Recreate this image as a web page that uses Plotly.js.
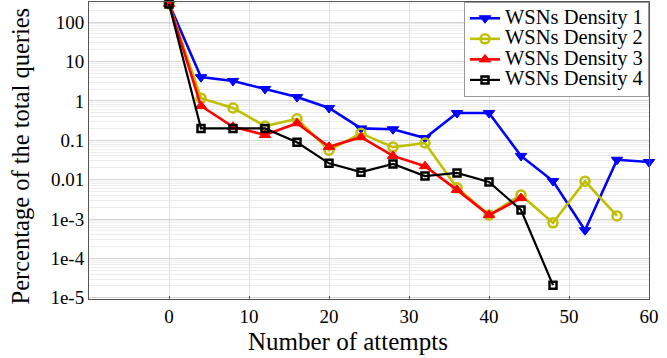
<!DOCTYPE html>
<html>
<head>
<meta charset="utf-8">
<script src="https://cdn.plot.ly/plotly-3.0.1.min.js"></script>
<style>
  html, body { margin: 0; padding: 0; background: #fff; }
  #chart { width: 667px; height: 358px; }
</style>
</head>
<body>
<div id="chart"></div>
<script>
// Attempt counts (x) shared by all densities
const attempts = [0, 4, 8, 12, 16, 20, 24, 28, 32, 36, 40, 44, 48, 52, 56, 60];

// Percentage of the total queries per attempt, one array per WSN density
const density1 = [290, 4.0, 3.2, 2.0, 1.25, 0.66, 0.20, 0.19, 0.114, 0.49, 0.49, 0.040, 0.0092, 0.00052, 0.032, 0.028];
const density2 = [290, 1.17, 0.66, 0.23, 0.35, 0.056, 0.15, 0.067, 0.085, 0.0062, 0.00126, 0.0041, 0.0008, 0.0091, 0.0012];
const density3 = [290, 0.74, 0.22, 0.136, 0.27, 0.068, 0.12, 0.040, 0.022, 0.0055, 0.00126, 0.0034];
const density4 = [290, 0.20, 0.20, 0.20, 0.089, 0.026, 0.0155, 0.025, 0.0123, 0.0148, 0.0087, 0.0017, 0.000021];

const seriesNames = ["WSNs Density 1", "WSNs Density 2", "WSNs Density 3", "WSNs Density 4"];

// Tick labels
const yTickVals = [1e-5, 1e-4, 1e-3, 0.01, 0.1, 1, 10, 100];
const yTickText = ["1e-5", "1e-4", "1e-3", "0.01", "0.1", "1", "10", "100"];
const xTickVals = [0, 10, 20, 30, 40, 50, 60];

const xTitle = "Number of attempts";
const yTitle = "Percentage of the total queries";

const serif = "'Liberation Serif', 'Times New Roman', serif";

// Legend rows are spaced by the (small) legend font size, so the label is enlarged inline
function legendLabel(name) {
  return '<span style="font-size:20.5px">' + name + '</span>';
}

function trace(vals, name, color, symbol, size, lw, mlw) {
  return {
    x: attempts.slice(0, vals.length),
    y: vals,
    name: legendLabel(name),
    type: "scatter",
    mode: "lines+markers",
    line: { color: color, width: lw },
    marker: { symbol: symbol, size: size, color: color, line: { color: color, width: mlw } },
    cliponaxis: false
  };
}

const data = [
  trace(density1, seriesNames[0], "#0000ff", "triangle-down", 10, 2.6, 1),
  trace(density2, seriesNames[1], "#bfbf00", "circle-open", 9, 2.6, 2.5),
  trace(density3, seriesNames[2], "#ff0000", "triangle-up", 10, 2.6, 1),
  trace(density4, seriesNames[3], "#000000", "square-open", 7, 2.2, 2.5)
];

const layout = {
  width: 667,
  height: 358,
  margin: { l: 89, r: 18, t: 2, b: 59 },
  paper_bgcolor: "#fff",
  plot_bgcolor: "#fff",
  font: { family: serif, color: "#000", size: 19 },
  showlegend: true,
  legend: {
    x: 1, y: 1, xanchor: "right", yanchor: "top",
    bgcolor: "#fff",
    bordercolor: "#999",
    borderwidth: 1,
    font: { family: serif, size: 13.5, color: "#000" },
    tracegroupgap: 0,
    itemwidth: 30
  },
  xaxis: {
    range: [-10, 60],
    tickvals: xTickVals,
    ticktext: xTickVals.map(String),
    tickfont: { family: serif, size: 19 },
    showgrid: true,
    gridcolor: "#dedede",
    gridwidth: 1,
    zeroline: false,
    showline: true,
    linecolor: "#555",
    linewidth: 1,
    mirror: true,
    ticks: "inside",
    ticklen: 3,
    tickcolor: "#555"
  },
  yaxis: {
    type: "log",
    range: [-5.03, 2.51],
    tickvals: yTickVals,
    ticktext: yTickText,
    tickfont: { family: serif, size: 19 },
    showgrid: true,
    gridcolor: "#d4d4d4",
    gridwidth: 1,
    minor: { showgrid: true, gridcolor: "#ececec", gridwidth: 1, dtick: "D1", ticks: "" },
    zeroline: false,
    showline: true,
    linecolor: "#555",
    linewidth: 1,
    mirror: true,
    ticks: ""
  },
  annotations: [
    {
      text: xTitle, xref: "paper", yref: "paper",
      x: (348 - 89) / 560, y: 0, xanchor: "center", yanchor: "middle",
      yshift: -42, showarrow: false,
      font: { family: serif, size: 25, color: "#000" }
    },
    {
      text: yTitle, xref: "paper", yref: "paper",
      x: 0, y: 0.48, xanchor: "center", yanchor: "middle",
      xshift: -69, textangle: -90, showarrow: false,
      font: { family: serif, size: 24.5, color: "#000" }
    }
  ]
};

Plotly.newPlot("chart", data, layout, { displayModeBar: false, staticPlot: true });
</script>
</body>
</html>
